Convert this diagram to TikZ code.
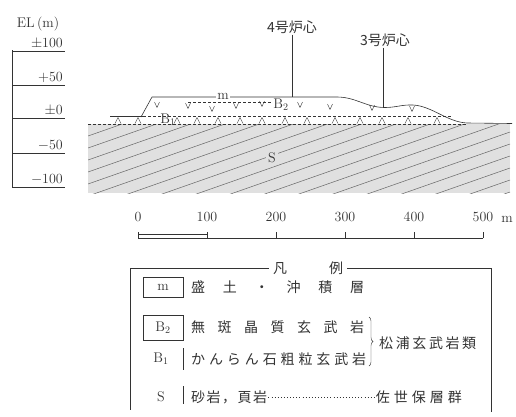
\documentclass[tikz,border=0pt]{standalone}
\usepackage{fontspec}
\newfontfamily\jp{Noto Sans CJK JP}
\usetikzlibrary{decorations.pathreplacing}

\tikzset{
  lbl/.style={font=\fontsize{14}{16}\selectfont, inner sep=1pt},
  jtxt/.style={font=\jp\fontsize{14}{16}\selectfont, inner sep=1pt},
  ground/.style={line width=0.6pt},
  bound/.style={line width=0.5pt, dash pattern=on 3pt off 2pt},
  hatchline/.style={line width=0.5pt, black!60},
  keybox/.style={draw, line width=0.5pt, minimum width=40pt, inner sep=0pt},
  leader/.style={line width=0.7pt, dash pattern=on 0.7pt off 2.4pt}
}

\begin{document}
\begin{tikzpicture}[x=1pt, y=-1pt, color=black!80]
\useasboundingbox[fill=white] (0,0) rectangle (516,416);

%%% elevation scale
\node[lbl] (el) at (38,24) {EL\,(m)};
\draw (12,50) -- (12,188);
\foreach \y/\t in {51/{$\pm$100}, 85/{$+$50}, 118/{$\pm$0}, 153/{$-$50}, 187/{$-$100}} {
  \draw (12,\y) -- (65,\y);
  \node[lbl, anchor=south east] (el\y) at (64,{\y-1}) {\t};
}

%%% sandstone / shale, hatched
\begin{scope}
  \clip (88,124) rectangle (510,193);
  \fill[black!12] (88,124) rectangle (510,193);
  \foreach \i in {0,...,18}
    \draw[hatchline] (88,{124+12*\i}) -- ++(422,-148);
\end{scope}
\node[lbl, fill=black!12, inner sep=2pt] (S) at (272,158) {S};

%%% layer boundaries and ground surface
\draw[bound] (88,124) -- (467,124);
\draw[bound] (143,116) -- (452,116);
\draw[bound] (188,102) -- (272,102);
\draw[ground] (110,116) -- (143,116);
\draw[ground] (141,117) -- (152,97) -- (337,97)
  .. controls (356,97) and (366,107.5) .. (385,107.5)
  .. controls (396,107.5) and (402,104.5) .. (413,105)
  .. controls (432,106) and (447,122) .. (467,123)
  -- (512,123.5);

% basalt marks
\foreach \x/\y in {157/105, 188/106, 212/109, 236/106, 262/104, 300/105, 330/107, 372/108, 412/109}
  \draw[thin] ({\x-2.5},{\y-3}) -- (\x,{\y+2.5}) -- ({\x+2.5},{\y-3});
\foreach \x in {118,138,177,197,218,240,262,285,307,335,360,382,408,437}
  \draw[thin] ({\x-3},123.5) -- (\x,117.5) -- ({\x+3},123.5);

\node[lbl, fill=white, inner sep=1.5pt] (mlbl) at (223,96) {m};
\node[lbl] (b1lbl) at (168,120) {B$_1$};
\node[lbl] (b2lbl) at (281,105) {B$_2$};

% reactor centres
\node[jtxt] (u4) at (292,27) {4号炉心};
\node[jtxt] (u3) at (385,40) {3号炉心};
\coordinate (u4g) at (292,97);
\coordinate (u3g) at (383,107.5);
\draw[thin] (u4.south -| u4g) -- (u4g);
\draw[thin] (u3.south -| u3g) -- (u3g);

%%% distance scale
\foreach \k in {0,...,5} {
  \pgfmathtruncatemacro\d{100*\k}
  \node[lbl] (d\k) at ({138+69*\k},217) {\d};
  \draw ({138+69*\k},238) -- ({138+69*\k},232);
}
\node[lbl] (unit) at (507,219) {m};
\draw[line width=1.2pt] (138,238.5) -- (483,238.5);
\draw[thin] (138,234) -- (207,234);

%%% legend
\node[jtxt, inner xsep=4pt] (key) at (308,268) {凡\hspace{3em}例};
\draw (key.west) -- (130,268) -- (130,410);
\draw (key.east) -- (491,268) -- (491,412);

\node[keybox, minimum height=20pt] (mkey) at (163,287) {\fontsize{14}{16}\selectfont m};
\node[keybox, minimum height=25pt] (b2key) at (163,327.5) {\fontsize{14}{16}\selectfont B$_2$};
\node[lbl] (b1key) at (161,359) {B$_1$};
\node[lbl] (skey) at (161,397) {S};
\draw (183,348) -- (183,370);
\draw (183,386) -- (183,404);

\node[jtxt, anchor=west] (mtxt) at (190,287)
  {\makebox[173pt][s]{盛\hfill 土\hfill ・\hfill 沖\hfill 積\hfill 層}};
\node[jtxt, anchor=west] (b2txt) at (190,327)
  {\makebox[173pt][s]{無\hfill 斑\hfill 晶\hfill 質\hfill 玄\hfill 武\hfill 岩}};
\node[jtxt, anchor=west] (b1txt) at (190,359)
  {\makebox[175pt][s]{か\hfill ん\hfill ら\hfill ん\hfill 石\hfill 粗\hfill 粒\hfill 玄\hfill 武\hfill 岩}};
\draw[decorate, decoration={brace, amplitude=4pt}] (369,317) -- (369,366);
\node[jtxt, anchor=west] (grpA) at (378,343)
  {\makebox[97pt][s]{松\hfill 浦\hfill 玄\hfill 武\hfill 岩\hfill 類}};

\node[jtxt, anchor=west] (stxt) at (190,397)
  {\makebox[76pt][s]{砂\hfill 岩\hfill ，\hfill 頁\hfill 岩}};
\node[jtxt, anchor=east] (grpB) at (463,397)
  {\makebox[86pt][s]{佐\hfill 世\hfill 保\hfill 層\hfill 群}};
\draw[leader] (stxt.east) -- (grpB.west);
\end{tikzpicture}
\end{document}
